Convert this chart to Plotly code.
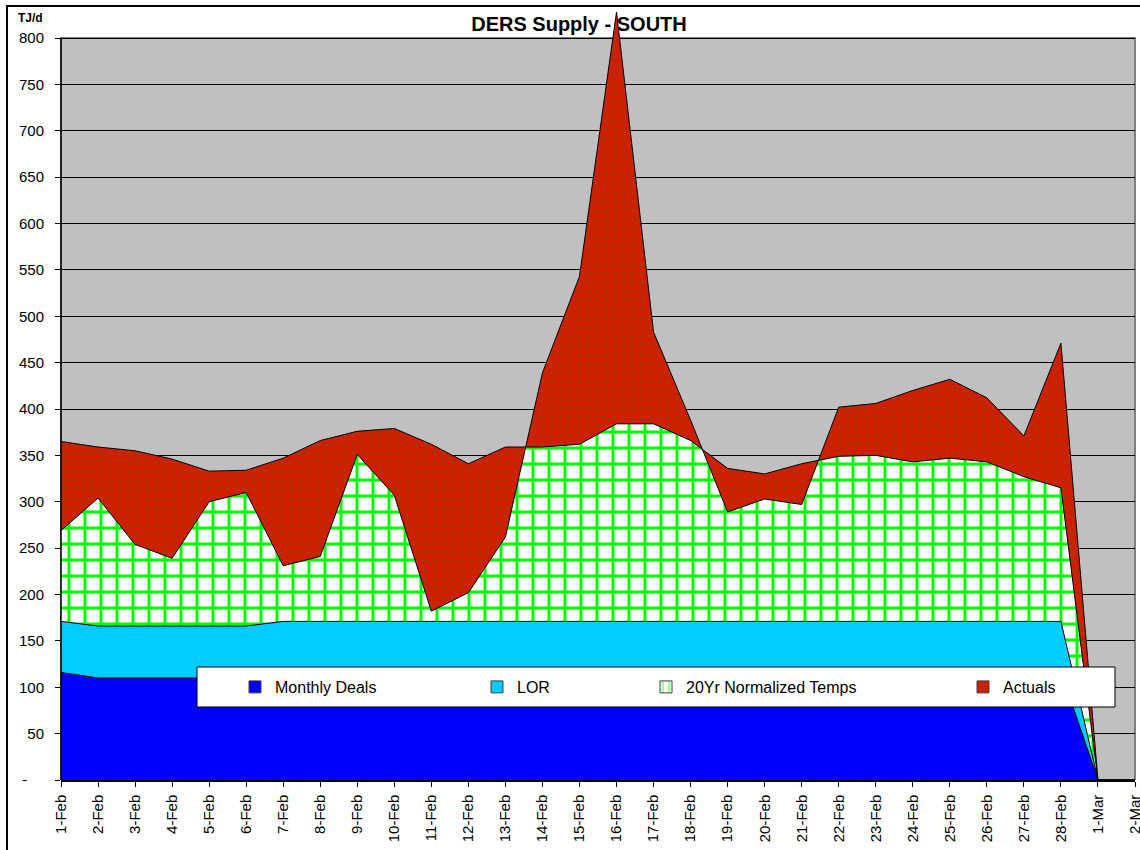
import plotly.graph_objects as go

# ---------------- data ----------------
dates = ["1-Feb", "2-Feb", "3-Feb", "4-Feb", "5-Feb", "6-Feb", "7-Feb", "8-Feb",
         "9-Feb", "10-Feb", "11-Feb", "12-Feb", "13-Feb", "14-Feb", "15-Feb",
         "16-Feb", "17-Feb", "18-Feb", "19-Feb", "20-Feb", "21-Feb", "22-Feb",
         "23-Feb", "24-Feb", "25-Feb", "26-Feb", "27-Feb", "28-Feb", "1-Mar", "2-Mar"]

# top of each stacked band (TJ/d)
monthly_deals = [116, 110, 110, 110, 110, 110, 110, 110, 110, 110, 110, 110, 110, 110, 110,
                 110, 110, 110, 110, 110, 110, 110, 110, 110, 110, 110, 110, 117, 0, 0]
lor_level = [171, 166, 166, 166, 166, 166, 171, 171, 171, 171, 171, 171, 171, 171, 171,
             171, 171, 171, 171, 171, 171, 171, 171, 171, 171, 171, 171, 171, 0, 0]
normalized_level = [365, 359, 355, 346, 333, 334, 347, 366, 376, 379, 362, 341, 359, 359, 362,
                    384, 384, 366, 336, 330, 341, 349, 350, 343, 347, 343, 327, 315, 0, 0]
actuals_level = [269, 304, 254, 239, 300, 310, 231, 241, 351, 307, 182, 202, 262, 439, 543,
                 828, 483, 388, 289, 303, 297, 402, 406, 420, 432, 412, 371, 471, 0, 0]

y_tick_vals = [0, 50, 100, 150, 200, 250, 300, 350, 400, 450, 500, 550, 600, 650, 700, 750, 800]
y_tick_text = ["-\u00a0\u00a0\u00a0\u00a0", "50", "100", "150", "200", "250", "300", "350", "400",
               "450", "500", "550", "600", "650", "700", "750", "800"]

series_names = ["Monthly Deals", "LOR", "20Yr Normalized Temps", "Actuals"]

# ---------------- styling ----------------
FONT = "Liberation Sans, Arial, Helvetica, sans-serif"
BLUE = "#0000FF"
CYAN = "#00CCFF"
GREEN = "#00FF00"
RED = "#CC2000"
W, H = 1140, 850
ML, MR, MT, MB = 61, 5, 8, 70
plot_h = H - MT - MB
px_per_unit = 742 / 800
y_top = plot_h / px_per_unit


def px_to_paper_x(px):
    return (px - ML) / (W - ML - MR)


def px_to_paper_y(py):
    return (H - MB - py) / plot_h


outline = dict(color="black", width=1)

fig = go.Figure()
fig.add_trace(go.Scatter(x=dates, y=monthly_deals, name=series_names[0], mode="lines",
                         line=outline, fill="tozeroy", fillcolor=BLUE, showlegend=False))
fig.add_trace(go.Scatter(x=dates, y=lor_level, name=series_names[1], mode="lines",
                         line=outline, fill="tonexty", fillcolor=CYAN, showlegend=False))
fig.add_trace(go.Scatter(x=dates, y=normalized_level, name=series_names[2], mode="lines",
                         line=outline, fill="tonexty", fillcolor="white",
                         fillpattern=dict(shape="+", fgcolor=GREEN, bgcolor="white",
                                          size=16, solidity=0.33, fgopacity=1),
                         showlegend=False))
fig.add_trace(go.Scatter(x=dates, y=actuals_level, name=series_names[3], mode="lines",
                         line=outline, fill="tonexty", fillcolor=RED,
                         fillpattern=dict(shape=".", fgcolor="#7A5A00", bgcolor=RED,
                                          size=9, solidity=0.08),
                         showlegend=False))

# legend-only swatches (one legend per entry to reproduce Excel's spacing)
legend_keys = ["legend", "legend2", "legend3", "legend4"]
swatches = [
    dict(color=BLUE, line=dict(color="#404040", width=1)),
    dict(color=CYAN, line=dict(color="#404040", width=1)),
    dict(color="white", line=dict(color="#404040", width=1),
         pattern=dict(shape="|", fgcolor=GREEN, bgcolor="white", size=8, solidity=0.3)),
    dict(color=RED, line=dict(color="#404040", width=1)),
]
for name, key, mk in zip(series_names, legend_keys, swatches):
    fig.add_trace(go.Bar(x=[None], y=[None], name=name, marker=mk, legend=key, showlegend=True))

text_start_px = [275, 517, 686, 1003]
legend_y = px_to_paper_y(687)
legend_layouts = {}
for key, tx in zip(legend_keys, text_start_px):
    legend_layouts[key] = dict(orientation="h", x=px_to_paper_x(tx - 40), xanchor="left",
                               y=legend_y, yanchor="middle", bgcolor="rgba(0,0,0,0)",
                               borderwidth=0, itemwidth=30,
                               font=dict(family=FONT, size=16, color="black"))

shapes = [
    # grey plot area
    dict(type="rect", xref="paper", yref="y", x0=0, x1=1, y0=0, y1=800,
         fillcolor="#C0C0C0", line=dict(color="#808080", width=2), layer="below"),
    # y axis line (only up to 800)
    dict(type="line", xref="paper", yref="y", x0=0, x1=0, y0=0, y1=800,
         line=dict(color="black", width=1.5), layer="above"),
    # legend box
    dict(type="rect", xref="paper", yref="paper",
         x0=px_to_paper_x(197), x1=px_to_paper_x(1115),
         y0=px_to_paper_y(707), y1=px_to_paper_y(667),
         fillcolor="white", line=dict(color="black", width=1), layer="above"),
    # outer chart frame
    dict(type="rect", xref="paper", yref="paper",
         x0=px_to_paper_x(7), x1=px_to_paper_x(1160),
         y0=px_to_paper_y(900), y1=px_to_paper_y(6),
         fillcolor="rgba(0,0,0,0)", line=dict(color="black", width=2), layer="above"),
]

fig.update_layout(
    width=W, height=H,
    margin=dict(l=ML, r=MR, t=MT, b=MB),
    paper_bgcolor="white", plot_bgcolor="white",
    font=dict(family=FONT, color="black"),
    title=dict(text="<b>DERS Supply - SOUTH</b>", x=579 / W, xanchor="center",
               y=1 - 24 / H, yanchor="middle", font=dict(family=FONT, size=20, color="black")),
    xaxis=dict(type="category", range=[0, len(dates) - 1], tickangle=-90,
               ticks="outside", ticklen=5, tickcolor="black", tickwidth=1,
               showline=True, linecolor="black", linewidth=1.5, showgrid=False,
               zeroline=False, tickfont=dict(family=FONT, size=15, color="black"),
               ticklabelstandoff=2, automargin=False),
    yaxis=dict(range=[0, y_top], tickmode="array", tickvals=y_tick_vals, ticktext=y_tick_text,
               ticks="outside", ticklen=5, tickcolor="black", tickwidth=1,
               showgrid=True, gridcolor="black", gridwidth=1, zeroline=False, showline=False,
               tickfont=dict(family=FONT, size=15, color="black"),
               ticklabelstandoff=8, automargin=False),
    shapes=shapes,
    annotations=[dict(text="<b>TJ/d</b>", xref="paper", yref="paper",
                      x=px_to_paper_x(30), y=px_to_paper_y(18), xanchor="center",
                      yanchor="middle", showarrow=False,
                      font=dict(family=FONT, size=12, color="black"))],
    showlegend=True,
    bargap=0,
    **legend_layouts,
)

# remove the browser's default 8px body margin so the figure sits at the page origin
fig.write_html("out.html", config={"displayModeBar": False},
               post_script="document.body.style.margin='0px';")
